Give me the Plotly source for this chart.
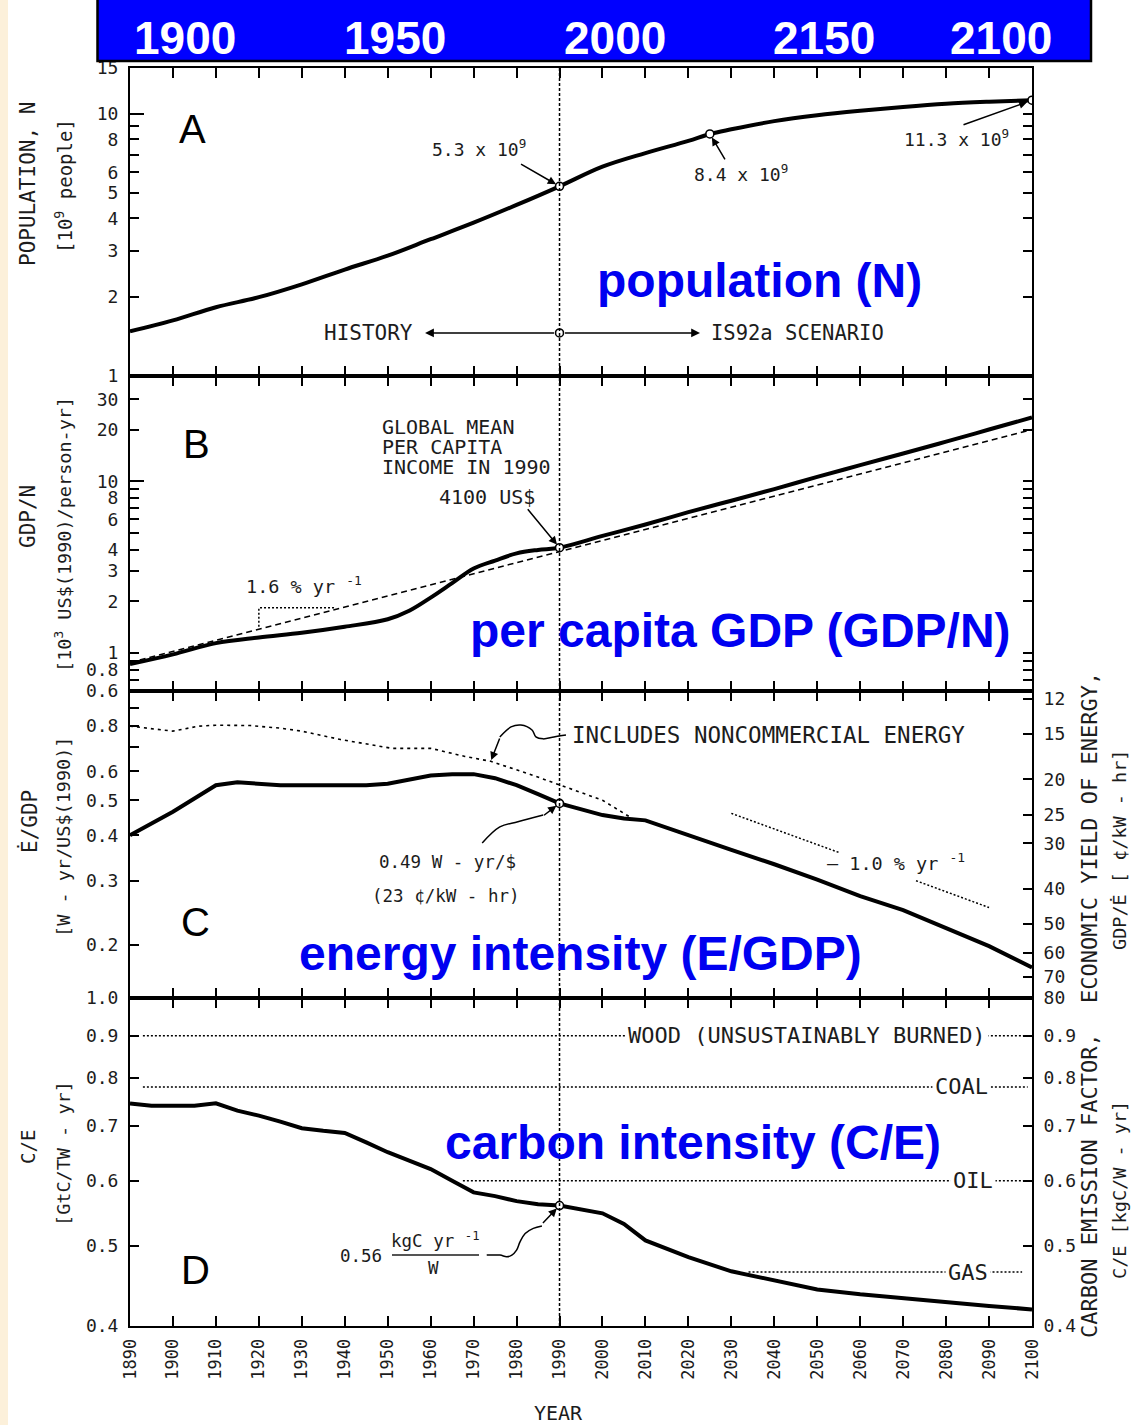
import numpy as np
import plotly.graph_objects as go

# ---------------- DATA ----------------
decade_ticks = list(range(1890, 2101, 10))
ref_year = 1990

# Panel A: population (10^9 people)
pop_years = [1890, 1900, 1910, 1920, 1930, 1940, 1950, 1960, 1970, 1980, 1990,
             2000, 2010, 2020, 2025, 2030, 2040, 2050, 2060, 2070, 2080, 2090, 2100]
pop_values = [1.48, 1.63, 1.83, 2.0, 2.24, 2.55, 2.88, 3.33, 3.85, 4.5, 5.3,
              6.3, 7.1, 7.9, 8.4, 8.75, 9.4, 9.9, 10.3, 10.65, 10.95, 11.15, 11.3]
pop_marked_years = [1990, 2025, 2100]
pop_marked_values = [5.3, 8.4, 11.3]
history_level = 1.46
history_left_year = 1958.7
history_right_year = 2022.7

# Panel B: per capita GDP (10^3 US$ 1990)
gdp_years = [1890, 1900, 1910, 1920, 1930, 1940, 1950, 1955, 1960, 1965, 1970, 1975, 1980, 1985, 1990,
             2000, 2010, 2020, 2030, 2040, 2050, 2060, 2070, 2080, 2090, 2100]
gdp_values = [0.86, 0.98, 1.14, 1.23, 1.31, 1.42, 1.57, 1.76, 2.1, 2.55, 3.1, 3.45, 3.8, 3.98, 4.1,
              4.8, 5.6, 6.6, 7.7, 9.0, 10.6, 12.4, 14.5, 17.0, 20.0, 23.5]
gdp_1990 = 4.1
gdp_trend_years = [1890, 2100]
gdp_trend_values = [0.88, 20.0]
slope_years = [1937.5, 1920, 1920]
slope_values = [1.83, 1.83, 1.40]

# Panel C: energy intensity (W-yr / US$1990)
ei_years = [1890, 1900, 1910, 1915, 1925, 1935, 1945, 1950, 1955, 1960, 1965, 1970, 1975, 1980, 1985, 1990,
            2000, 2005, 2010, 2020, 2030, 2040, 2050, 2060, 2070, 2080, 2090, 2100]
ei_values = [0.40, 0.465, 0.55, 0.56, 0.55, 0.55, 0.55, 0.555, 0.57, 0.585, 0.59, 0.59, 0.575, 0.55, 0.52, 0.49,
             0.455, 0.445, 0.44, 0.40, 0.365, 0.333, 0.302, 0.272, 0.249, 0.222, 0.198, 0.173]
ei_1990 = 0.49
nc_years = [1890, 1900, 1906, 1910, 1918, 1925, 1930, 1939, 1951, 1960, 1968, 1974, 1983, 1990, 2000, 2007]
nc_values = [0.80, 0.775, 0.80, 0.805, 0.803, 0.79, 0.775, 0.735, 0.695, 0.695, 0.66, 0.64, 0.59, 0.55, 0.50, 0.445]
ei_trend_years = [2030, 2055, None, 2073, 2090]
ei_trend_values = [0.46, 0.359, None, 0.30, 0.253]
right_c_ticks = [12, 15, 20, 25, 30, 40, 50, 60, 70, 80]
cents_per_kwh_factor = 100 / 8.766   # (c/kWh) = factor / (W-yr/$)

# Panel D: carbon intensity (GtC / TW-yr)
ci_years = [1890, 1895, 1905, 1910, 1915, 1920, 1925, 1930, 1935, 1940, 1945, 1950, 1955, 1960, 1965,
            1970, 1975, 1980, 1985, 1990, 2000, 2005, 2010, 2020, 2030, 2040, 2050, 2060, 2070, 2080, 2090, 2100]
ci_values = [0.745, 0.74, 0.74, 0.745, 0.73, 0.72, 0.708, 0.695, 0.69, 0.686, 0.668, 0.65, 0.635, 0.62, 0.6,
             0.581, 0.575, 0.567, 0.562, 0.56, 0.548, 0.532, 0.508, 0.485, 0.466, 0.454, 0.443, 0.437, 0.432,
             0.428, 0.423, 0.419]
ci_1990 = 0.56
fuel_names = ["WOOD (UNSUSTAINABLY BURNED)", "COAL", "OIL", "GAS"]
fuel_factors = [0.9, 0.78, 0.6, 0.465]
fuel_start_years = [1893, 1893, 1967.5, 2034]
fuel_end_years = [2099.5, 2099, 2099, 2097.7]
fuel_label_years = [2047.7, 2083.5, 2086.3, 2085.0]

banner_labels = ["1900", "1950", "2000", "2150", "2100"]

# Leader-line paths (year, value)
nc_leader_years = [1991.5, 1988.7, 1986.2, 1984.5, 1983.6, 1981.0, 1978.7, 1976.1]
nc_leader_values = [0.756, 0.747, 0.738, 0.747, 0.781, 0.806, 0.796, 0.747]
ei_leader_years = [1972.0, 1976.1, 1980.3, 1986.2]
ei_leader_values = [0.381, 0.422, 0.436, 0.455]
ci_leader_years = [1973.05, 1976.15, 1977.7, 1978.9, 1980.0, 1980.8, 1982.0, 1983.9, 1985.9]
ci_leader_values = [0.4876, 0.4876, 0.4853, 0.4876, 0.4944, 0.506, 0.518, 0.5254, 0.529]

# ---------------- LAYOUT HELPERS ----------------
W, H = 1131, 1425
ML, MR, MT, MB = 130, 99, 68, 99
PW, PH = W - ML - MR, H - MT - MB


def px(x):
    return (x - ML) / PW


def py(y):
    return (H - MB - y) / PH


L = np.log10
MONO = "DejaVu Sans Mono"
INK = "#1c1c1c"

dom_A = [py(376), 1.0]
dom_B = [py(691), py(376)]
dom_C = [py(998), py(691)]
dom_D = [0.0, py(998)]

rng_A = [0, L(15)]
rng_B = [L(0.6), L(41)]
rng_C = [L(0.1425), 0.0]
rng_D = [L(0.4), 0.0]
rng_C_right = [L(cents_per_kwh_factor / 0.1425), L(cents_per_kwh_factor / 1.0)]

fig = go.Figure()


def line(xs, ys, xa, ya, width=4, dash=None, shape="linear", color="black"):
    fig.add_trace(go.Scatter(x=xs, y=ys, mode="lines", xaxis=xa, yaxis=ya, showlegend=False,
                             hoverinfo="skip", connectgaps=False,
                             line=dict(color=color, width=width, dash=dash, shape=shape)))


def circles(xs, ys, xa, ya):
    fig.add_trace(go.Scatter(x=xs, y=ys, mode="markers", xaxis=xa, yaxis=ya, showlegend=False,
                             hoverinfo="skip",
                             marker=dict(symbol="circle", size=8, color="white",
                                         line=dict(color="black", width=1.6))))


# Panel A
line(pop_years, pop_values, "x", "y", shape="spline")
circles(pop_marked_years, pop_marked_values, "x", "y")
circles([ref_year], [history_level], "x", "y")

# Panel B
line(gdp_trend_years, gdp_trend_values, "x2", "y2", width=1.5, dash="6px,4px")
line(slope_years, slope_values, "x2", "y2", width=1.5, dash="2px,2px")
line(gdp_years, gdp_values, "x2", "y2", shape="spline")
circles([ref_year], [gdp_1990], "x2", "y2")

# Panel C
line(nc_years, nc_values, "x3", "y3", width=1.6, dash="3px,4px")
line(ei_trend_years, ei_trend_values, "x3", "y3", width=1.5, dash="2px,2px")
line(ei_years, ei_values, "x3", "y3")
circles([ref_year], [ei_1990], "x3", "y3")
line(nc_leader_years, nc_leader_values, "x3", "y3", width=1.5, shape="spline")
line(ei_leader_years, ei_leader_values, "x3", "y3", width=1.5, shape="spline")
# right-hand axis anchor trace (economic yield)
fig.add_trace(go.Scatter(x=[ref_year], y=[cents_per_kwh_factor / ei_1990], mode="markers",
                         xaxis="x3", yaxis="y5", showlegend=False, hoverinfo="skip",
                         marker=dict(opacity=0)))

# Panel D
for f, x0, x1 in zip(fuel_factors, fuel_start_years, fuel_end_years):
    line([x0, x1], [f, f], "x4", "y4", width=1.5, dash="2px,2px")
line(ci_years, ci_values, "x4", "y4")
circles([ref_year], [ci_1990], "x4", "y4")
line(ci_leader_years, ci_leader_values, "x4", "y4", width=1.5, shape="spline")
fig.add_trace(go.Scatter(x=[ref_year], y=[ci_1990], mode="markers", xaxis="x4", yaxis="y6",
                         showlegend=False, hoverinfo="skip", marker=dict(opacity=0)))
# long decade ticks overlays
fig.add_trace(go.Scatter(x=[ref_year], y=[5.3], mode="markers", xaxis="x", yaxis="y7",
                         showlegend=False, hoverinfo="skip", marker=dict(opacity=0)))
fig.add_trace(go.Scatter(x=[ref_year], y=[4.1], mode="markers", xaxis="x2", yaxis="y8",
                         showlegend=False, hoverinfo="skip", marker=dict(opacity=0)))

# ---------------- AXES ----------------
tickfont = dict(family=MONO, size=18, color=INK)
xbase = dict(range=[1890, 2100], tickvals=decade_ticks, ticks="inside", ticklen=10, tickwidth=2,
             tickcolor="black", showline=True, linewidth=2, linecolor="black", mirror="ticks",
             showgrid=False, zeroline=False)


def yax(domain, rng, vals, texts, anchor, mirror="ticks", side="left", overlaying=None,
        ticklen=9, showline=True, labels=True):
    d = dict(type="log", domain=domain, range=rng, tickvals=vals, ticktext=texts, ticks="inside",
             ticklen=ticklen, tickwidth=2, tickcolor="black", showline=showline, linewidth=2,
             linecolor="black", mirror=mirror, showgrid=False, zeroline=False, anchor=anchor,
             side=side, tickfont=tickfont, ticklabelstandoff=6, showticklabels=labels)
    if overlaying:
        d["overlaying"] = overlaying
    return d


fig.update_layout(
    width=W, height=H, margin=dict(l=ML, r=MR, t=MT, b=MB, pad=0),
    paper_bgcolor="white", plot_bgcolor="white", showlegend=False,
    xaxis=dict(xbase, anchor="y", matches="x4", showticklabels=False),
    xaxis2=dict(xbase, anchor="y2", matches="x4", showticklabels=False),
    xaxis3=dict(xbase, anchor="y3", matches="x4", showticklabels=False),
    xaxis4=dict(xbase, anchor="y4", showticklabels=True, tickangle=-90,
                tickfont=dict(family=MONO, size=17, color=INK), ticklabelstandoff=4),
    yaxis=yax(dom_A, rng_A, [1, 2, 3, 4, 5, 6, 7, 8, 9, 10, 15],
              ["1", "2", "3", "4", "5", "6", "", "8", "", "10", "15"], "x"),
    yaxis2=yax(dom_B, rng_B, [0.6, 0.7, 0.8, 0.9, 1, 2, 3, 4, 5, 6, 7, 8, 9, 10, 20, 30],
               ["0.6", "", "0.8", "", "1", "2", "3", "4", "", "6", "", "8", "", "10", "20", "30"], "x2"),
    yaxis3=yax(dom_C, rng_C, [0.2, 0.3, 0.4, 0.5, 0.6, 0.7, 0.8, 0.9],
               ["0.2", "0.3", "0.4", "0.5", "0.6", "", "0.8", ""], "x3", mirror=False),
    yaxis4=yax(dom_D, rng_D, [0.4, 0.5, 0.6, 0.7, 0.8, 0.9, 1.0],
               ["0.4", "0.5", "0.6", "0.7", "0.8", "0.9", "1.0"], "x4", mirror=False),
    yaxis5=yax(dom_C, rng_C_right, right_c_ticks, [str(v) for v in right_c_ticks], "x3",
               mirror=False, side="right", overlaying="y3"),
    yaxis6=yax(dom_D, rng_D, [0.4, 0.5, 0.6, 0.7, 0.8, 0.9],
               ["0.4", "0.5", "0.6", "0.7", "0.8", "0.9"], "x4", mirror=False, side="right",
               overlaying="y4"),
    yaxis7=yax(dom_A, rng_A, [10], [""], "x", mirror=False, overlaying="y", ticklen=14,
               showline=False, labels=False),
    yaxis8=yax(dom_B, rng_B, [10], [""], "x2", mirror=False, overlaying="y2", ticklen=14,
               showline=False, labels=False),
)

# ---------------- SHAPES ----------------
shapes = [
    # cream strip on the left edge of the page
    dict(type="rect", xref="paper", yref="paper", x0=px(-2), x1=px(8), y0=py(H + 5), y1=py(-5),
         fillcolor="#FCF0DA", line=dict(width=0), layer="below"),
    # blue banner
    dict(type="rect", xref="paper", yref="paper", x0=px(97.5), x1=px(1091), y0=py(61), y1=py(-3),
         fillcolor="#0000FF", line=dict(color="black", width=2.5)),
    # 1990 dotted vertical line
    dict(type="line", xref="x4", yref="paper", x0=ref_year, x1=ref_year, y0=0, y1=1,
         line=dict(color="black", width=1.5, dash="3px,2px")),
    # fraction bar of 0.56 kgC yr-1 / W
    dict(type="line", xref="paper", yref="paper", x0=px(392), x1=px(479), y0=py(1255), y1=py(1255),
         line=dict(color=INK, width=1.5)),
]
fig.update_layout(shapes=shapes)

# ---------------- ANNOTATIONS ----------------
ann = []


def txt(x, y, s, size=18.5, family=MONO, color=INK, angle=0, xanchor="center", yanchor="middle",
        bold=False, bg=None, **kw):
    a = dict(xref="paper", yref="paper", x=px(x), y=py(y), text=("<b>%s</b>" % s) if bold else s,
             showarrow=False, font=dict(family=family, size=size, color=color), textangle=angle,
             xanchor=xanchor, yanchor=yanchor)
    if bg:
        a["bgcolor"] = bg
    a.update(kw)
    ann.append(a)


def arrow(xa, ya, x, yval, ax, ay, standoff=4, head=2):
    ann.append(dict(xref=xa, yref=ya, x=x, y=L(yval), ax=ax, ay=ay, text="", showarrow=True,
                    arrowhead=head, arrowsize=1.1, arrowwidth=1.5, arrowcolor="black",
                    standoff=standoff))


# banner labels
for lab, cx in zip(banner_labels, [184.5, 394.8, 615, 823.6, 1001]):
    txt(cx, 38, lab, size=46, family="Liberation Sans", color="white", bold=True)

# blue titles
BLUE = "#0000F0"
txt(759, 280, "population (N)", size=48, family="Liberation Sans", color=BLUE, bold=True)
txt(740, 630, "per capita GDP (GDP/N)", size=48, family="Liberation Sans", color=BLUE, bold=True)
txt(580, 953, "energy intensity (E/GDP)", size=48, family="Liberation Sans", color=BLUE, bold=True)
txt(693, 1142, "carbon intensity (C/E)", size=48, family="Liberation Sans", color=BLUE, bold=True)

# panel letters
for lt, (cx, cy) in zip("ABCD", [(192, 129), (196, 444), (195, 922), (195, 1270)]):
    txt(cx, cy, lt, size=40, family="Liberation Sans", color="black")

# left axis titles
txt(28, 184, "POPULATION, N", size=21, angle=-90)
txt(64, 186, "[10<sup>9</sup> people]", size=19, angle=-90)
txt(28, 517, "GDP/N", size=21, angle=-90)
txt(63, 535, "[10<sup>3</sup> US$(1990)/person-yr]", size=18.5, angle=-90)
txt(29, 822, "Ė/GDP", size=21, angle=-90)
txt(63, 837, "[W - yr/US$(1990)]", size=18.5, angle=-90)
txt(28, 1147, "C/E", size=19, angle=-90)
txt(63, 1154, "[GtC/TW - yr]", size=18.5, angle=-90)

# right axis titles
txt(1089, 838, "ECONOMIC YIELD OF ENERGY,", size=22, angle=-90)
txt(1119, 850, "GDP/Ė [ ¢/kW - hr]", size=18.5, angle=-90)
txt(1089, 1186, "CARBON EMISSION FACTOR,", size=22, angle=-90)
txt(1119, 1190, "C/E [kgC/W - yr]", size=18.5, angle=-90)

txt(558, 1413, "YEAR", size=20)

# Panel A annotations
txt(479, 148, "5.3 x 10<sup>9</sup>", size=18)
arrow("x", "y", ref_year, 5.3, -40, -23)
txt(741, 173, "8.4 x 10<sup>9</sup>", size=18)
arrow("x", "y", pop_marked_years[1], 8.4, 16, 27)
txt(956, 138, "11.3 x 10<sup>9</sup>", size=18)
arrow("x", "y", pop_marked_years[2], 11.3, -70, 25, standoff=5)
txt(368, 333, "HISTORY", size=21)
txt(797, 333, "IS92a SCENARIO", size=20.5)
for hy in (history_left_year, history_right_year):
    ann.append(dict(xref="x", yref="y", x=hy, y=L(history_level), axref="x", ayref="y",
                    ax=ref_year, ay=L(history_level), text="", showarrow=True, arrowhead=2,
                    arrowsize=1.1, arrowwidth=1.6, arrowcolor="black", standoff=0, startstandoff=4))

# Panel B annotations
txt(380, 427, "GLOBAL MEAN", size=20, xanchor="left")
txt(380, 447, "PER CAPITA", size=20, xanchor="left")
txt(380, 467, "INCOME IN 1990", size=20, xanchor="left")
txt(487, 497, "4100 US$", size=20)
arrow("x2", "y2", ref_year, gdp_1990, -33, -40)
txt(304, 585, "1.6 % yr <sup>-1</sup>", size=18.5)

# Panel C annotations
txt(570, 735, "INCLUDES NONCOMMERCIAL ENERGY", size=22.5, xanchor="left")
arrow("x3", "y3", 1974.1, 0.645, 9, -23, standoff=0)
txt(447, 862, "0.49 W - yr/$", size=17.5)
txt(446, 896, "(23 ¢/kW - hr)", size=17.5)
arrow("x3", "y3", ref_year, ei_1990, -17, 13, standoff=4)
txt(896, 862, "– 1.0 % yr <sup>-1</sup>", size=18.5)

# Panel D annotations
for name, f, ly in zip(fuel_names, fuel_factors, fuel_label_years):
    ann.append(dict(xref="x4", yref="y4", x=ly, y=L(f), text=name, showarrow=False,
                    font=dict(family=MONO, size=22, color=INK), bgcolor="white", borderpad=2,
                    xanchor="center", yanchor="middle"))
txt(361, 1256, "0.56", size=17.5)
txt(435, 1240, "kgC yr <sup>-1</sup>", size=17.5)
txt(433, 1268, "W", size=17.5)
arrow("x4", "y4", ref_year, ci_1990, -18, 19, standoff=4)

fig.update_layout(annotations=ann)

fig.write_html("out.html")
